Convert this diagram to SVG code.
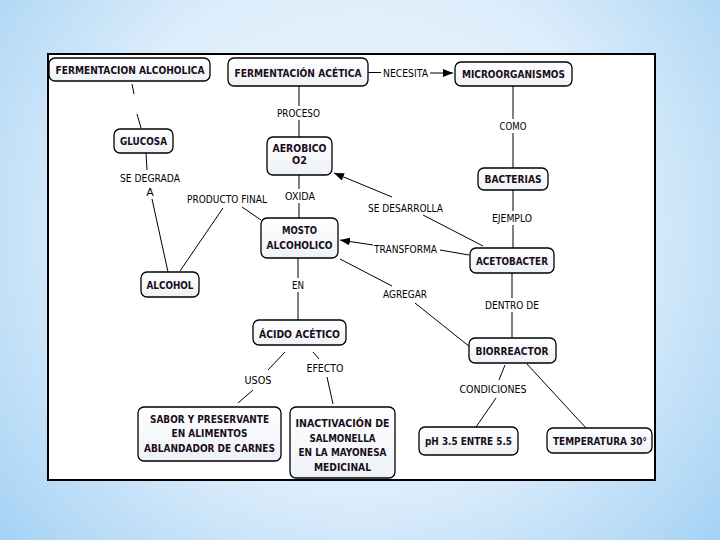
<svg xmlns="http://www.w3.org/2000/svg" width="720" height="540" viewBox="0 0 720 540">
<defs>
<radialGradient id="bg" cx="360" cy="230" r="480" gradientUnits="userSpaceOnUse">
<stop offset="0" stop-color="#eff8fe"/>
<stop offset="0.55" stop-color="#dcedfb"/>
<stop offset="1" stop-color="#a4d1f4"/>
</radialGradient>
<linearGradient id="nodefill" x1="0" y1="0" x2="0" y2="1">
<stop offset="0" stop-color="#ffffff"/>
<stop offset="1" stop-color="#eef2f6"/>
</linearGradient>
<marker id="arr" viewBox="0 0 10 8" refX="10" refY="4" markerWidth="10" markerHeight="8" markerUnits="userSpaceOnUse" orient="auto">
<path d="M0,0 L10,4 L0,8 Z" fill="#000"/>
</marker>
</defs>
<style>
.box{fill:url(#nodefill);stroke:#000;stroke-width:1.3}
.nt{font-family:"DejaVu Sans","Liberation Sans",sans-serif;font-weight:bold;font-size:11px;fill:#1a0d1a;text-anchor:middle}
.lt{font-family:"DejaVu Sans","Liberation Sans",sans-serif;font-size:11px;fill:#000;text-anchor:middle}
.ln{fill:none;stroke:#000;stroke-width:1}
</style>
<rect x="0" y="0" width="720" height="540" fill="url(#bg)"/>
<rect x="48" y="54" width="607" height="426" fill="#fff" stroke="#000" stroke-width="2"/>

<g id="connectors">
<path class="ln" d="M132,84 L134,94 M137,114 L141,128"/>
<path class="ln" d="M368,72.5 L381,72.5"/>
<path class="ln" d="M430,73 L453,73" marker-end="url(#arr)"/>
<path class="ln" d="M299,86 V106 M299,120 V137"/>
<path class="ln" d="M513,86 V119 M513,133 V168"/>
<path class="ln" d="M146,153 L147,170 M152,199 L168,272"/>
<path class="ln" d="M180,271 L223,208 M242,207 L261,220"/>
<path class="ln" d="M299,175 V189 M299,203 V218"/>
<path class="ln" d="M513,190 V211 M513,225 V248"/>
<path class="ln" d="M483,246 L423,215"/>
<path class="ln" d="M392,197 L334,173" marker-end="url(#arr)"/>
<path class="ln" d="M469,255 L440,250"/>
<path class="ln" d="M373,245 L340,240" marker-end="url(#arr)"/>
<path class="ln" d="M298,258 V278 M298,292 V320"/>
<path class="ln" d="M340,259 L392,286 M415,303 L470,347"/>
<path class="ln" d="M512,273 V298 M512,312 V338"/>
<path class="ln" d="M285,352 L268,370 M253,390 L238,403"/>
<path class="ln" d="M313,352 L319,359 M327,377 L333,404"/>
<path class="ln" d="M505,365 L499,380 M496,398 L476,427"/>
<path class="ln" d="M527,364 L586,428"/>
</g>

<g id="labels">
<text class="lt" x="405.5" y="77" textLength="45" lengthAdjust="spacingAndGlyphs">NECESITA</text>
<text class="lt" x="298.5" y="117" textLength="43" lengthAdjust="spacingAndGlyphs">PROCESO</text>
<text class="lt" x="513" y="130" textLength="27" lengthAdjust="spacingAndGlyphs">COMO</text>
<text class="lt" x="150" y="182" textLength="60" lengthAdjust="spacingAndGlyphs">SE DEGRADA</text>
<text class="lt" x="150" y="196">A</text>
<text class="lt" x="227" y="203" textLength="80" lengthAdjust="spacingAndGlyphs">PRODUCTO FINAL</text>
<text class="lt" x="300" y="200" textLength="30" lengthAdjust="spacingAndGlyphs">OXIDA</text>
<text class="lt" x="405.5" y="212" textLength="75" lengthAdjust="spacingAndGlyphs">SE DESARROLLA</text>
<text class="lt" x="512" y="222" textLength="40" lengthAdjust="spacingAndGlyphs">EJEMPLO</text>
<text class="lt" x="405.5" y="253" textLength="63" lengthAdjust="spacingAndGlyphs">TRANSFORMA</text>
<text class="lt" x="298" y="289" textLength="12" lengthAdjust="spacingAndGlyphs">EN</text>
<text class="lt" x="405" y="298" textLength="44" lengthAdjust="spacingAndGlyphs">AGREGAR</text>
<text class="lt" x="512" y="309" textLength="54" lengthAdjust="spacingAndGlyphs">DENTRO DE</text>
<text class="lt" x="258" y="384" textLength="27" lengthAdjust="spacingAndGlyphs">USOS</text>
<text class="lt" x="325" y="372" textLength="37" lengthAdjust="spacingAndGlyphs">EFECTO</text>
<text class="lt" x="493" y="393" textLength="67" lengthAdjust="spacingAndGlyphs">CONDICIONES</text>
</g>

<g id="n1"><rect class="box" x="49" y="58" width="161" height="23" rx="6"/>
<text class="nt" x="130" y="73.5" textLength="149" lengthAdjust="spacingAndGlyphs">FERMENTACION ALCOHOLICA</text></g>
<g id="n2"><rect class="box" x="228" y="58" width="140" height="28" rx="6"/>
<text class="nt" x="298" y="76.5" textLength="127" lengthAdjust="spacingAndGlyphs">FERMENTACIÓN ACÉTICA</text></g>
<g id="n3"><rect class="box" x="455" y="62" width="117" height="24" rx="6"/>
<text class="nt" x="513.5" y="78" textLength="103" lengthAdjust="spacingAndGlyphs">MICROORGANISMOS</text></g>
<g id="n4"><rect class="box" x="114" y="129" width="59" height="24" rx="6"/>
<text class="nt" x="143.5" y="145" textLength="47" lengthAdjust="spacingAndGlyphs">GLUCOSA</text></g>
<g id="n5"><rect class="box" x="267" y="137" width="65" height="38" rx="6"/>
<text class="nt" x="299.5" y="152" textLength="54" lengthAdjust="spacingAndGlyphs">AEROBICO</text>
<text class="nt" x="299.5" y="164" textLength="15" lengthAdjust="spacingAndGlyphs">O2</text></g>
<g id="n6"><rect class="box" x="478" y="168" width="70" height="22" rx="6"/>
<text class="nt" x="513" y="183" textLength="57" lengthAdjust="spacingAndGlyphs">BACTERIAS</text></g>
<g id="n7"><rect class="box" x="261" y="218" width="77" height="40" rx="6"/>
<text class="nt" x="299.5" y="234" textLength="35" lengthAdjust="spacingAndGlyphs">MOSTO</text>
<text class="nt" x="299.5" y="249" textLength="66" lengthAdjust="spacingAndGlyphs">ALCOHOLICO</text></g>
<g id="n8"><rect class="box" x="141" y="272" width="58" height="25" rx="6"/>
<text class="nt" x="170" y="289" textLength="47" lengthAdjust="spacingAndGlyphs">ALCOHOL</text></g>
<g id="n9"><rect class="box" x="470" y="248" width="84" height="25" rx="6"/>
<text class="nt" x="512" y="265" textLength="72" lengthAdjust="spacingAndGlyphs">ACETOBACTER</text></g>
<g id="n10"><rect class="box" x="253" y="320" width="93" height="25" rx="6"/>
<text class="nt" x="299.5" y="338" textLength="81" lengthAdjust="spacingAndGlyphs">ÁCIDO ACÉTICO</text></g>
<g id="n11"><rect class="box" x="469" y="338" width="87" height="25" rx="6"/>
<text class="nt" x="512" y="355" textLength="73" lengthAdjust="spacingAndGlyphs">BIORREACTOR</text></g>
<g id="n12"><rect class="box" x="138" y="407" width="143" height="54" rx="6"/>
<text class="nt" x="209.5" y="423" textLength="119" lengthAdjust="spacingAndGlyphs">SABOR Y PRESERVANTE</text>
<text class="nt" x="209.5" y="437" textLength="76" lengthAdjust="spacingAndGlyphs">EN ALIMENTOS</text>
<text class="nt" x="209.5" y="452" textLength="131" lengthAdjust="spacingAndGlyphs">ABLANDADOR DE CARNES</text></g>
<g id="n13"><rect class="box" x="290" y="407" width="105" height="71" rx="6"/>
<text class="nt" x="342.5" y="427" textLength="94" lengthAdjust="spacingAndGlyphs">INACTIVACIÓN DE</text>
<text class="nt" x="342.5" y="442" textLength="66" lengthAdjust="spacingAndGlyphs">SALMONELLA</text>
<text class="nt" x="342.5" y="456" textLength="88" lengthAdjust="spacingAndGlyphs">EN LA MAYONESA</text>
<text class="nt" x="342.5" y="471" textLength="57" lengthAdjust="spacingAndGlyphs">MEDICINAL</text></g>
<g id="n14"><rect class="box" x="419" y="427" width="99" height="28" rx="6"/>
<text class="nt" x="468.5" y="445" textLength="87" lengthAdjust="spacingAndGlyphs">pH 3.5 ENTRE 5.5</text></g>
<g id="n15"><rect class="box" x="547" y="428" width="105" height="25" rx="6"/>
<text class="nt" x="600" y="445" textLength="94" lengthAdjust="spacingAndGlyphs">TEMPERATURA 30°</text></g>
</svg>
